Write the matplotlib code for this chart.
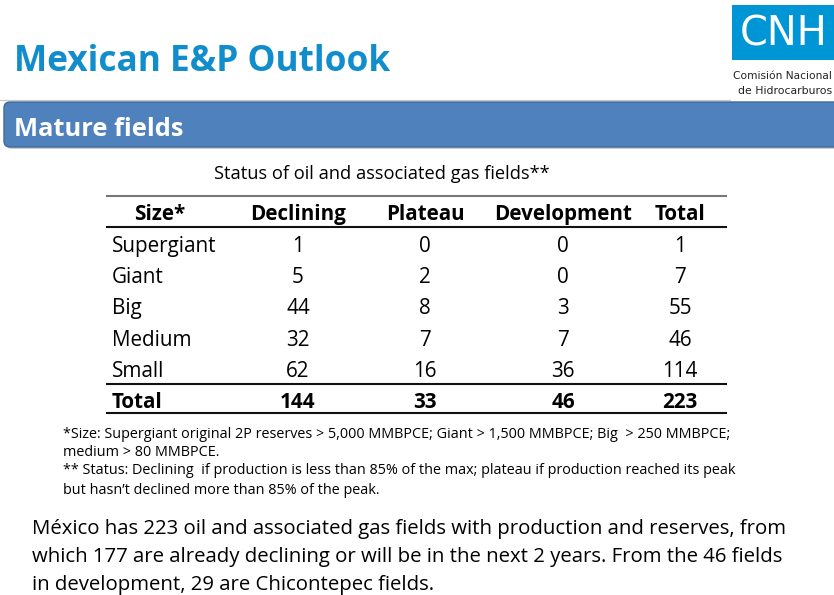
import matplotlib
matplotlib.use("Agg")
import matplotlib.pyplot as plt
from matplotlib.patches import FancyBboxPatch, Rectangle

# ---- data ----
title = "Mexican E&P Outlook"
section = "Mature fields"
table_title = "Status of oil and associated gas fields**"
columns = ["Size*", "Declining", "Plateau", "Development", "Total"]
sizes = ["Supergiant", "Giant", "Big", "Medium", "Small"]
declining = [1, 5, 44, 32, 62]
plateau = [0, 2, 8, 7, 16]
development = [0, 0, 3, 7, 36]
totals = [1, 7, 55, 46, 114]
total_row = ["Total", 144, 33, 46, 223]
footnotes = [
    "*Size: Supergiant original 2P reserves > 5,000 MMBPCE; Giant > 1,500 MMBPCE; Big  > 250 MMBPCE;",
    "medium > 80 MMBPCE.",
    "** Status: Declining  if production is less than 85% of the max; plateau if production reached its peak",
    "but hasn\u2019t declined more than 85% of the peak.",
]
body = [
    "México has 223 oil and associated gas fields with production and reserves, from",
    "which 177 are already declining or will be in the next 2 years. From the 46 fields",
    "in development, 29 are Chicontepec fields.",
]

W, H = 834, 595
fig = plt.figure(figsize=(W / 100, H / 100), dpi=100)
ax = fig.add_axes([0, 0, 1, 1])
ax.set_xlim(0, W)
ax.set_ylim(H, 0)
ax.axis("off")
fig.canvas.draw()
renderer = fig.canvas.get_renderer()

FONT = "Open Sans"
DY = 2


def fit(t, width):
    bb = t.get_window_extent(renderer)
    t.set_fontsize(t.get_fontsize() * width / bb.width)


def text(x, y, s, size, width=None, **kw):
    kw.setdefault("family", FONT)
    kw.setdefault("va", "center")
    t = ax.text(x, y + DY, s, fontsize=size, **kw)
    if width:
        fit(t, width)
    return t


def cell(x, y, s, size, **kw):
    # baseline aligned so that cap-height centre sits at y
    px = size * 100 / 72
    return ax.text(x, y + 0.357 * px, s, fontsize=size, family=FONT, va="baseline", **kw)


# title
text(14, 60, title, 26, width=378, color="#118dcb", weight="bold")

# logo
ax.add_patch(Rectangle((732, 5), 110, 55, color="#0096d6", lw=0))
text(740, 33, "CNH", 30, width=88, color="white", family="Liberation Sans Narrow")
text(733, 74, "Comisión Nacional", 8, width=99, family="Liberation Sans Narrow", color="#222222")
text(738, 89, "de Hidrocarburos", 8, width=94, family="Liberation Sans Narrow", color="#222222")

# band
ax.plot([0, 730], [100, 100], color="#c8c8c8", lw=0.8)
ax.add_patch(FancyBboxPatch((6, 105), 840, 44, boxstyle="round,pad=0,rounding_size=6",
                            fc="#9a9a9a", ec="none", alpha=0.5))
ax.add_patch(FancyBboxPatch((4, 102), 840, 45, boxstyle="round,pad=0,rounding_size=6",
                            fc="#4f81bd", ec="#41699a", lw=1))
text(14, 127, section, 17, width=169, color="white", weight="bold")

# table title
text(382, 172, table_title, 12, width=334, ha="center")

# table
col_x = [112, 298, 425, 563, 680]
x0, x1 = 107, 726
ax.plot([x0, x1], [196, 196], color="#777777", lw=1.5)
ax.plot([x0, x1], [227, 227], color="#111111", lw=1.5)
ax.plot([x0, x1], [384, 384], color="#111111", lw=1.5)
ax.plot([x0, x1], [413, 413], color="#111111", lw=1.5)

# header font size fitted to the "Development" width
probe = ax.text(0, 0, columns[3], fontsize=15, family=FONT, weight="bold")
fit(probe, 138)
hsize = probe.get_fontsize()
probe.remove()

hdr_y = 213
for i, c in enumerate(columns):
    cx = 160 if i == 0 else col_x[i]
    cell(cx, hdr_y, c, hsize, ha="center", weight="bold")

row_y = [245, 276, 307, 339, 370]
for r, y in enumerate(row_y):
    vals = [sizes[r], declining[r], plateau[r], development[r], totals[r]]
    for i, v in enumerate(vals):
        if i == 0:
            cell(col_x[0], y, v, hsize)
        else:
            cell(col_x[i], y, str(v), hsize, ha="center")

for i, v in enumerate(total_row):
    if i == 0:
        cell(col_x[0], 401, v, hsize, weight="bold")
    else:
        cell(col_x[i], 401, str(v), hsize, ha="center", weight="bold")

# footnotes
fy = [433, 451, 469, 488]
t = text(63, fy[0], footnotes[0], 9, width=670)
fs = t.get_fontsize()
for s, y in zip(footnotes[1:], fy[1:]):
    text(63, y, s, fs)

# body
by = [527, 555, 583]
t = text(32, by[0], body[0], 14, width=763)
bs = t.get_fontsize()
for s, y in zip(body[1:], by[1:]):
    text(32, y, s, bs)

fig.savefig("out.png", dpi=100)
